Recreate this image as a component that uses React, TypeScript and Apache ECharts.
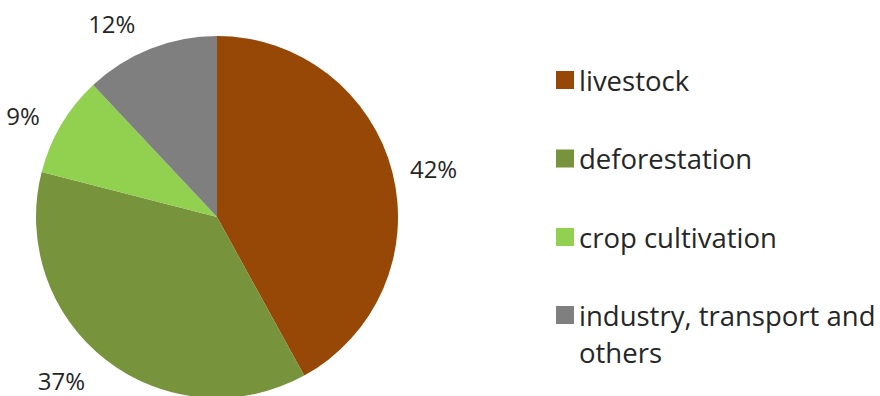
import React, { useEffect, useRef } from "react";
import * as echarts from "echarts";

const categories = ["livestock", "deforestation", "crop cultivation", "industry, transport and others"];
const values = [42, 37, 9, 12];
const colors = ["#974706", "#77933C", "#92D050", "#7F7F7F"];
const labelDistances = [13, 26, 19, 27];

const FONT = "Open Sans";
const TEXT_COLOR = "#262626";

export default function App() {
  const ref = useRef<HTMLDivElement>(null);
  useEffect(() => {
    if (!ref.current) return;
    const chart = echarts.init(ref.current, undefined, { renderer: "svg" });
    const legendText = {
      fontFamily: FONT,
      fontSize: 27.5,
      color: TEXT_COLOR,
      lineHeight: 37,
    };
    chart.setOption({
      animation: false,
      color: colors,
      legend: [
        {
          orient: "vertical",
          left: 556,
          top: 61.5,
          padding: 0,
          itemWidth: 18,
          itemHeight: 18,
          itemGap: 41.5,
          icon: "rect",
          selectedMode: false,
          textStyle: legendText,
          data: categories.slice(0, 3),
        },
        {
          orient: "vertical",
          left: 556,
          top: 259.5,
          padding: 0,
          itemWidth: 18,
          itemHeight: 18,
          icon: "rect",
          selectedMode: false,
          textStyle: legendText,
          formatter: () => "\nindustry, transport and\nothers",
          data: categories.slice(3),
        },
      ],
      series: [
        {
          type: "pie",
          center: [217, 217],
          radius: 181,
          startAngle: 90,
          clockwise: true,
          avoidLabelOverlap: false,
          label: {
            show: true,
            position: "outside",
            formatter: "{c}%",
            fontFamily: FONT,
            fontSize: 24,
            color: TEXT_COLOR,
            overflow: "none",
            edgeDistance: 0,
          },
          labelLine: { show: false, length: 20, length2: 0 },
          emphasis: { disabled: true },
          data: categories.map((name, i) => ({
            name,
            value: values[i],
            labelLine: { show: false, length: labelDistances[i], length2: 0 },
          })),
        },
      ],
    });
    return () => chart.dispose();
  }, []);
  return <div ref={ref} style={{ width: 880, height: 396, position: "absolute", left: 0, top: 0 }} />;
}
